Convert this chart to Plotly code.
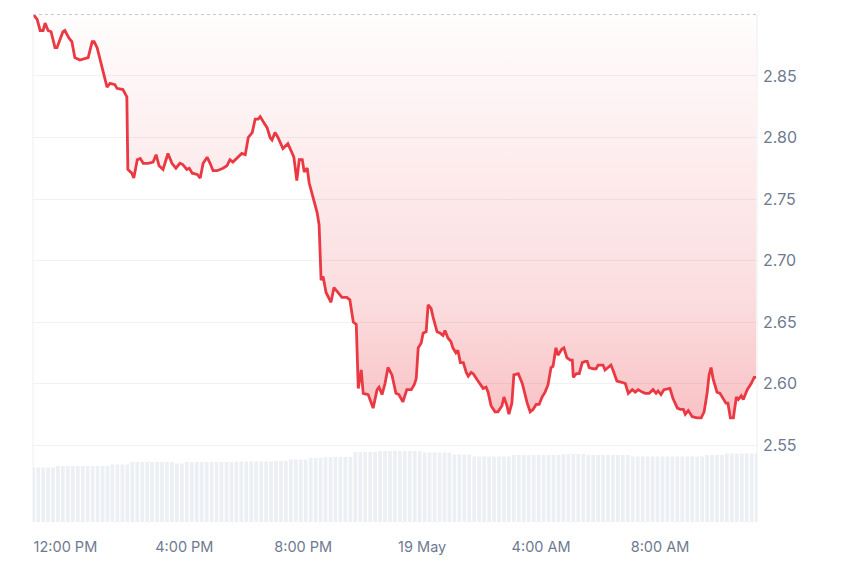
import plotly.graph_objects as go
import pandas as pd

# ---- price series ----
times_18 = [
    "10:55", "11:03", "11:09", "11:15", "11:19", "11:25", "11:31", "11:39", "11:43", "11:55",
    "11:59", "12:07", "12:13", "12:19", "12:29", "12:46", "12:54", "12:58", "13:04", "13:10",
    "13:16", "13:24", "13:30", "13:40", "13:44", "13:56", "14:04", "14:06", "14:14", "14:18",
    "14:25", "14:31", "14:37", "14:47", "14:57", "15:03", "15:09", "15:17", "15:27", "15:35",
    "15:43", "15:51", "15:57", "16:05", "16:10", "16:16", "16:26", "16:32", "16:38", "16:46",
    "16:52", "16:58", "17:06", "17:12", "17:18", "17:26", "17:32", "17:38", "17:48", "17:56",
    "18:03", "18:09", "18:17", "18:23", "18:29", "18:33", "18:39", "18:47", "18:53", "18:57",
    "19:03", "19:09", "19:19", "19:29", "19:39", "19:41", "19:47", "19:52", "19:58", "20:02",
    "20:08", "20:12", "20:20", "20:28", "20:32", "20:36", "20:40", "20:46", "20:56", "21:02",
    "21:10", "21:18", "21:28", "21:34", "21:41", "21:47", "21:51", "21:57", "22:01", "22:11",
    "22:21", "22:29", "22:33", "22:39", "22:45", "22:51", "22:59", "23:07", "23:13", "23:21",
    "23:29", "23:38", "23:44", "23:48", "23:52", "23:58",
]
times_19 = [
    "00:02", "00:08", "00:12", "00:18", "00:22", "00:30", "00:36", "00:42", "00:46", "00:52",
    "00:58", "01:02", "01:08", "01:12", "01:17", "01:23", "01:29", "01:33", "01:39", "01:43",
    "01:51", "01:57", "02:03", "02:09", "02:13", "02:19", "02:27", "02:33", "02:41", "02:45",
    "02:51", "02:55", "03:01", "03:05", "03:14", "03:22", "03:32", "03:38", "03:44", "03:50",
    "03:56", "04:02", "04:08", "04:14", "04:20", "04:24", "04:30", "04:34", "04:42", "04:46",
    "04:52", "04:59", "05:03", "05:05", "05:11", "05:17", "05:23", "05:29", "05:33", "05:37",
    "05:45", "05:51", "05:55", "06:05", "06:09", "06:15", "06:21", "06:25", "06:33", "06:43",
    "06:50", "06:56", "07:04", "07:10", "07:16", "07:24", "07:30", "07:38", "07:46", "07:52",
    "07:56", "08:02", "08:08", "08:20", "08:26", "08:35", "08:41", "08:47", "08:51", "08:57",
    "09:05", "09:15", "09:23", "09:29", "09:35", "09:39", "09:43", "09:47", "09:55", "10:01",
    "10:07", "10:13", "10:17", "10:22", "10:28", "10:34", "10:38", "10:44", "10:48", "10:56",
    "11:04", "11:10", "11:14",
]
prices = [
    2.900, 2.896, 2.887, 2.887, 2.893, 2.887, 2.886, 2.873, 2.873, 2.886,
    2.887, 2.881, 2.878, 2.865, 2.863, 2.865, 2.878, 2.878, 2.873, 2.863,
    2.855, 2.841, 2.844, 2.843, 2.840, 2.839, 2.833, 2.774, 2.771, 2.767,
    2.782, 2.783, 2.779, 2.779, 2.780, 2.786, 2.777, 2.774, 2.787, 2.779,
    2.775, 2.779, 2.778, 2.774, 2.775, 2.771, 2.770, 2.767, 2.779, 2.784,
    2.779, 2.773, 2.773, 2.774, 2.775, 2.777, 2.782, 2.780, 2.784, 2.787,
    2.786, 2.800, 2.804, 2.815, 2.815, 2.817, 2.813, 2.808, 2.800, 2.798,
    2.804, 2.800, 2.791, 2.795, 2.786, 2.784, 2.765, 2.782, 2.782, 2.772,
    2.775, 2.763, 2.751, 2.739, 2.729, 2.684, 2.687, 2.674, 2.666, 2.678,
    2.674, 2.670, 2.670, 2.668, 2.650, 2.648, 2.596, 2.611, 2.592, 2.591,
    2.580, 2.595, 2.597, 2.591, 2.600, 2.613, 2.607, 2.592, 2.591, 2.585,
    2.595, 2.595, 2.599, 2.604, 2.629, 2.633, 2.641, 2.642, 2.664, 2.661,
    2.654, 2.642, 2.641, 2.639, 2.643, 2.637, 2.634, 2.629, 2.625, 2.627,
    2.617, 2.617, 2.609, 2.606, 2.609, 2.608, 2.603, 2.599, 2.596, 2.597,
    2.593, 2.582, 2.577, 2.577, 2.582, 2.589, 2.582, 2.575, 2.584, 2.607,
    2.608, 2.600, 2.584, 2.577, 2.579, 2.583, 2.583, 2.589, 2.593, 2.599,
    2.613, 2.614, 2.629, 2.623, 2.628, 2.629, 2.621, 2.619, 2.619, 2.605,
    2.608, 2.608, 2.617, 2.618, 2.618, 2.613, 2.612, 2.612, 2.615, 2.615,
    2.611, 2.613, 2.615, 2.611, 2.602, 2.601, 2.600, 2.592, 2.595, 2.593,
    2.595, 2.593, 2.592, 2.592, 2.595, 2.592, 2.594, 2.591, 2.595, 2.596,
    2.588, 2.580, 2.579, 2.579, 2.575, 2.578, 2.573, 2.572, 2.572, 2.577,
    2.592, 2.607, 2.613, 2.604, 2.593, 2.592, 2.588, 2.584, 2.584, 2.572,
    2.572, 2.589, 2.587, 2.590, 2.587, 2.595, 2.600, 2.605, 2.605,
]

# ---- volume bars (10-minute bars, millions) ----
volume_start = "2025-05-18 10:55"
volumes = [
    109, 109, 109, 109, 109, 112, 112, 112, 112, 112,
    112, 112, 112, 112, 112, 112, 115, 115, 115, 115,
    120, 120, 120, 120, 120, 120, 120, 120, 120, 117,
    117, 120, 120, 120, 120, 120, 120, 120, 120, 120,
    120, 121, 121, 121, 121, 121, 121, 121, 121, 122,
    122, 122, 125, 125, 125, 125, 128, 128, 128, 130,
    130, 130, 130, 130, 130, 140, 140, 140, 140, 140,
    142, 142, 142, 142, 142, 142, 142, 142, 142, 139,
    139, 139, 139, 139, 139, 135, 135, 135, 135, 131,
    131, 131, 131, 131, 131, 131, 131, 134, 134, 134,
    134, 134, 134, 134, 134, 134, 134, 136, 136, 136,
    136, 136, 134, 134, 134, 134, 134, 134, 134, 134,
    134, 131, 131, 131, 131, 131, 131, 131, 131, 131,
    131, 131, 131, 131, 131, 131, 134, 134, 134, 134,
    137, 137, 137, 137, 137, 137, 137,
]

# ---- axis ticks ----
x_tickvals = ["2025-05-18 12:00", "2025-05-18 16:00", "2025-05-18 20:00",
              "2025-05-19 00:00", "2025-05-19 04:00", "2025-05-19 08:00"]
x_ticktext = ["12:00 PM", "4:00 PM", "8:00 PM", "19 May", "4:00 AM", "8:00 AM"]
y_tickvals = [2.55, 2.60, 2.65, 2.70, 2.75, 2.80, 2.85]
y_ticktext = ["2.55", "2.60", "2.65", "2.70", "2.75", "2.80", "2.85"]
y_range = [2.4874, 2.9004]
x_range = ["2025-05-18 10:54:36", "2025-05-19 11:15:42"]

times = ["2025-05-18 " + t for t in times_18] + ["2025-05-19 " + t for t in times_19]
n = min(len(times), len(prices))
times, prices = times[:n], prices[:n]

vol_times = pd.date_range(volume_start, periods=len(volumes), freq="10min")

RED = "#ea3943"
fig = go.Figure()

fig.add_trace(go.Bar(
    x=vol_times, y=volumes, yaxis="y2",
    marker=dict(color="#eceff3", line=dict(width=0)),
    hoverinfo="skip", showlegend=False,
))

fig.add_trace(go.Scatter(
    x=[times[0], times[-1]], y=[y_range[1], y_range[1]],
    mode="lines", line=dict(width=0), hoverinfo="skip", showlegend=False,
))

fig.add_trace(go.Scatter(
    x=times, y=prices, mode="lines",
    line=dict(color=RED, width=2.8),
    fill="tonexty",
    fillgradient=dict(
        type="vertical",
        start=2.57, stop=2.90,
        colorscale=[[0, "rgba(234,57,67,0.31)"],
                    [0.3, "rgba(234,57,67,0.17)"],
                    [1, "rgba(234,57,67,0.01)"]],
    ),
    showlegend=False,
))

fig.update_layout(
    width=850, height=567,
    margin=dict(l=25, r=101, t=6, b=53),
    paper_bgcolor="white", plot_bgcolor="white",
    font=dict(family="Inter, Roboto, sans-serif", size=14, color="#6f7a91"),
    bargap=0.25,
    showlegend=False,
    xaxis=dict(
        type="date", range=x_range,
        tickvals=x_tickvals, ticktext=x_ticktext,
        showgrid=False, zeroline=False, showline=False,
        ticks="", ticklabelstandoff=14,
        tickfont=dict(size=14.5, color="#6f7a91"),
    ),
    yaxis=dict(
        side="right", range=y_range,
        tickvals=y_tickvals, ticktext=y_ticktext,
        showgrid=True, gridcolor="#f0f1f3", gridwidth=1,
        zeroline=False, showline=False, ticks="",
        ticklabelstandoff=5,
        tickfont=dict(size=16, color="#6f7a91"),
    ),
    yaxis2=dict(
        overlaying="y", range=[0, 1016], visible=False,
        showgrid=False, zeroline=False,
    ),
    shapes=[
        dict(type="line", xref="paper", yref="y", x0=0, x1=1, y0=2.90, y1=2.90,
             line=dict(color="#c4c8cf", width=1, dash="dot")),
        dict(type="line", xref="paper", yref="paper", x0=0, x1=0, y0=0, y1=1,
             line=dict(color="#eceef1", width=1)),
        dict(type="line", xref="paper", yref="paper", x0=1, x1=1, y0=0, y1=1,
             line=dict(color="#eceef1", width=1)),
    ],
)

fig.write_html("out.html")
